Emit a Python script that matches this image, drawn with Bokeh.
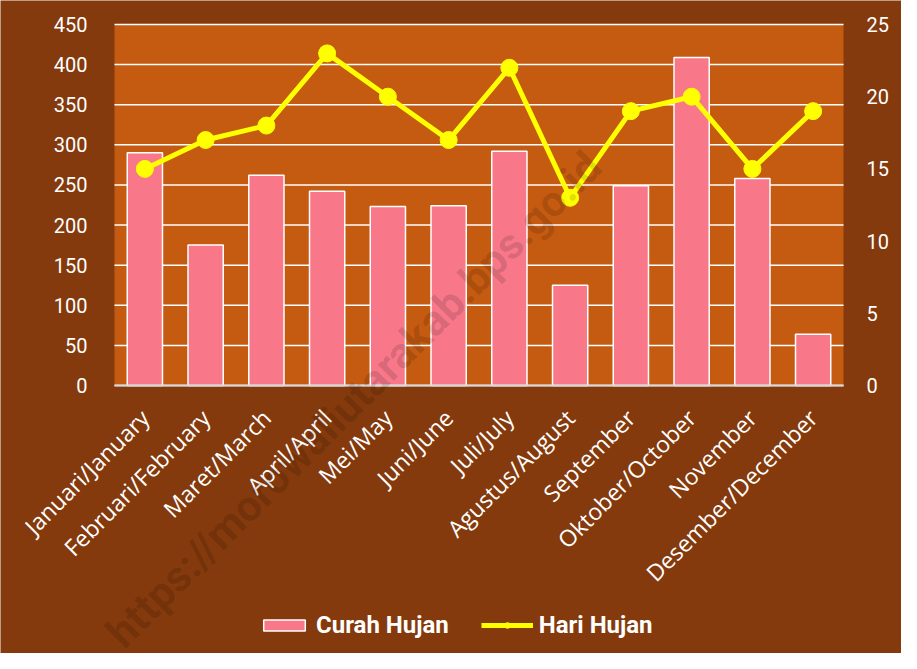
from math import pi
from bokeh.plotting import figure
from bokeh.models import (ColumnDataSource, Range1d, LinearAxis, FixedTicker,
                          Legend, LegendItem, Label, BoxAnnotation)
from bokeh.embed import file_html
from bokeh.resources import INLINE

months = ["Januari/January", "Februari/February", "Maret/March", "April/April",
          "Mei/May", "Juni/June", "Juli/July", "Agustus/August", "September",
          "Oktober/October", "November", "Desember/December"]
curah_hujan = [290, 175, 262, 242, 223, 224, 292, 125, 249, 409, 258, 64]
hari_hujan = [15, 17, 18, 23, 20, 17, 22, 13, 19, 20, 15, 19]
left_ticks = [0, 50, 100, 150, 200, 250, 300, 350, 400, 450]
right_ticks = [0, 5, 10, 15, 20, 25]

OUTER = "#843A0C"
INNER = "#C55A11"
PINK = "#F8788A"
YELLOW = "#FFFF00"

# layout (pixels): plot area inside a full-canvas frame
W, H = 901, 653
AREA_L, AREA_R, AREA_T, AREA_B = 114, 843, 24, 385
N = len(months)
L_MAX, R_MAX = left_ticks[-1], right_ticks[-1]
xpx = (AREA_R - AREA_L) / N
lpx = (AREA_B - AREA_T) / L_MAX
rpx = (AREA_B - AREA_T) / R_MAX

xs = [i + 0.5 for i in range(N)]
src = ColumnDataSource(dict(x=xs, ch=curah_hujan, hh=hari_hujan))

p = figure(width=W, height=H,
           x_range=Range1d(-AREA_L / xpx, N + (W - AREA_R) / xpx),
           y_range=Range1d(-(H - AREA_B) / lpx, L_MAX + AREA_T / lpx),
           output_backend="svg", toolbar_location=None,
           min_border=0, min_border_left=0, min_border_right=0,
           min_border_top=0, min_border_bottom=0)
p.background_fill_color = OUTER
p.border_fill_color = OUTER
p.outline_line_color = None
p.extra_y_ranges = {"days": Range1d(-(H - AREA_B) / rpx, R_MAX + AREA_T / rpx)}
p.xgrid.grid_line_color = None
p.ygrid.grid_line_color = None

area = BoxAnnotation(left=0, right=N, bottom=0, top=L_MAX, fill_color=INNER,
                     fill_alpha=1, line_color=None, level="image")
p.add_layout(area)

p.segment(x0=0, x1=N, y0=left_ticks, y1=left_ticks, line_color="white",
          line_width=1.5)

bars = p.vbar(x="x", top="ch", width=0.58, source=src, fill_color=PINK,
              line_color="white", line_width=1.5)
ln = p.line(x="x", y="hh", source=src, y_range_name="days", line_color=YELLOW,
            line_width=5)
pts = p.scatter(x="x", y="hh", source=src, y_range_name="days", size=17,
                fill_color=YELLOW, line_color=YELLOW)

ax = p.yaxis[0]
ax.fixed_location = 0
ax.ticker = FixedTicker(ticks=left_ticks)
ax.axis_line_color = None
ax.major_tick_line_color = None
ax.minor_tick_line_color = None
ax.major_label_text_color = "white"
ax.major_label_text_font = "Roboto"
ax.major_label_text_font_size = "20px"
ax.major_label_standoff = 21

rax = LinearAxis(y_range_name="days", ticker=FixedTicker(ticks=right_ticks),
                 fixed_location=N)
rax.axis_line_color = None
rax.major_tick_line_color = None
rax.minor_tick_line_color = None
rax.major_label_text_color = "white"
rax.major_label_text_font = "Roboto"
rax.major_label_text_font_size = "20px"
rax.major_label_standoff = 17
p.add_layout(rax, "right")

xa = p.xaxis[0]
xa.fixed_location = 0
xa.bounds = (0, N)
xa.ticker = FixedTicker(ticks=xs)
xa.major_label_overrides = {x: m for x, m in zip(xs, months)}
xa.axis_line_color = "#D9D9D9"
xa.axis_line_width = 2
xa.major_tick_line_color = None
xa.minor_tick_line_color = None
xa.major_label_orientation = pi / 4
xa.major_label_text_color = "white"
xa.major_label_text_font = "Open Sans"
xa.major_label_text_font_size = "23px"
xa.major_label_standoff = 22

wm = Label(x=7.89, y=282, text="https://morowaliutarakab.bps.go.id", angle=pi / 4,
           text_align="right", text_baseline="alphabetic", text_font="Roboto",
           text_font_style="bold", text_font_size="43px", text_color="black",
           text_alpha=0.13)
p.add_layout(wm)

legend = Legend(items=[LegendItem(label="Curah Hujan", renderers=[bars]),
                       LegendItem(label="Hari Hujan", renderers=[ln, pts])],
                location=(258, 14), orientation="horizontal",
                background_fill_alpha=0, border_line_color=None,
                label_text_color="white", label_text_font="Roboto",
                label_text_font_style="bold", label_text_font_size="24px",
                glyph_width=52, glyph_height=14, label_standoff=6, spacing=32,
                padding=0, margin=0)
p.add_layout(legend, "center")

open("out.html", "w").write(file_html(p, INLINE))
